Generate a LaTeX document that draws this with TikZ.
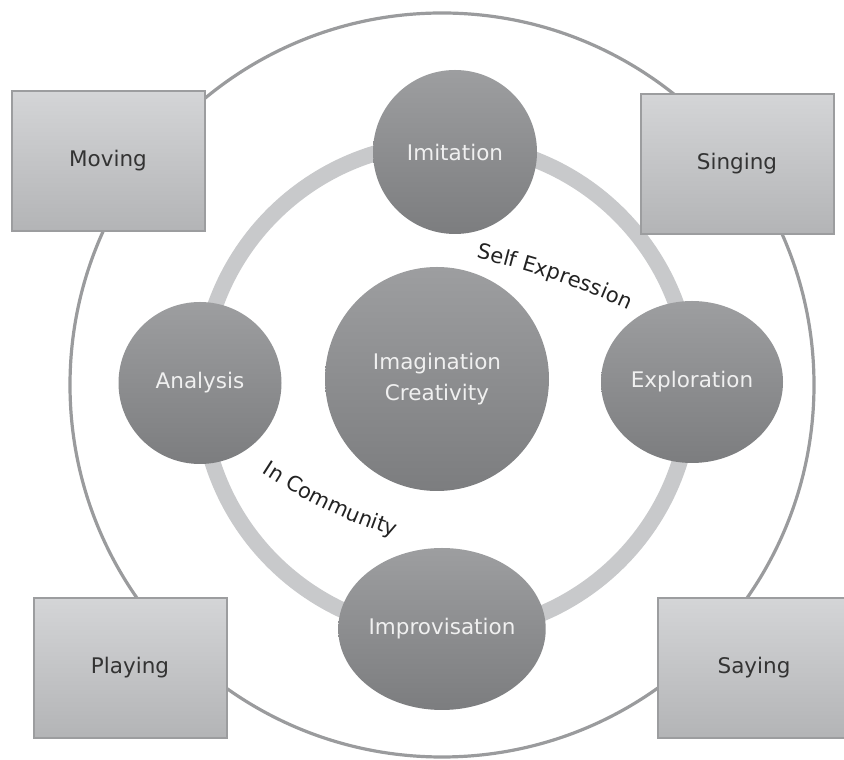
\documentclass[tikz,border=0pt]{standalone}
\usepackage{fontspec}
\setmainfont{DejaVu Sans}
\usetikzlibrary{shapes.geometric,decorations.text}

\definecolor{outerline}{HTML}{9A9B9D}
\definecolor{ringgray}{HTML}{C8C9CB}
\definecolor{stagetop}{HTML}{9D9EA0}
\definecolor{stagebot}{HTML}{7C7D7F}
\definecolor{boxtop}{HTML}{D4D5D7}
\definecolor{boxbot}{HTML}{B3B4B6}
\definecolor{boxline}{HTML}{9C9D9F}

\newcommand{\curvedfont}{\fontsize{21}{25}\selectfont\color[HTML]{222222}}

\tikzset{
  stage/.style={ellipse, inner sep=0pt, top color=stagetop, bottom color=stagebot,
    text=white!94!black, align=center, font=\fontsize{21.5}{31}\selectfont},
  mode/.style={rectangle, draw=boxline, line width=2pt, top color=boxtop, bottom color=boxbot,
    text=black!80, minimum width=193pt, minimum height=140pt, font=\fontsize{21.5}{26}\selectfont},
}

\begin{document}
\begin{tikzpicture}[x=1pt,y=1pt]
  \useasboundingbox (0,0) rectangle (844,760);
  \node (outer) [circle, draw=outerline, line width=3.2pt, minimum size=744pt] at (442,375) {};
  \draw [ringgray, line width=16pt] (446,372) circle [radius=245];

  % the four ways
  \node (moving) [mode] at (108,599) {Moving};
  \node (singing) [mode] at (737,596) {Singing};
  \node (playing) [mode] at (130,92) {Playing};
  \node (saying) [mode] at (754,92) {Saying};

  % the stages
  \node (imag) [stage, minimum width=224pt, minimum height=224pt] at (437,381) {Imagination\\Creativity};
  \node (imitation) [stage, minimum width=164pt, minimum height=164pt] at (455,608) {Imitation};
  \node (analysis) [stage, minimum width=163pt, minimum height=162pt] at (200,377) {Analysis};
  \node (exploration) [stage, minimum width=182pt, minimum height=162pt] at (692,378) {Exploration};
  \node (improv) [stage, minimum width=206pt, minimum height=162pt] at (442,131) {Improvisation};

  \coordinate (self-a) at (464,505);
  \coordinate (self-b) at (640,445);
  \path [decorate, decoration={text along path, text align=center,
    text={|\curvedfont|Self Expression}}] (self-a) to [bend left=6] (self-b);
  \coordinate (comm-a) at (250,295);
  \coordinate (comm-b) at (408,219);
  \path [decorate, decoration={text along path, text align=center,
    text={|\curvedfont|In Community}}] (comm-a) to [bend right=8] (comm-b);
\end{tikzpicture}
\end{document}
